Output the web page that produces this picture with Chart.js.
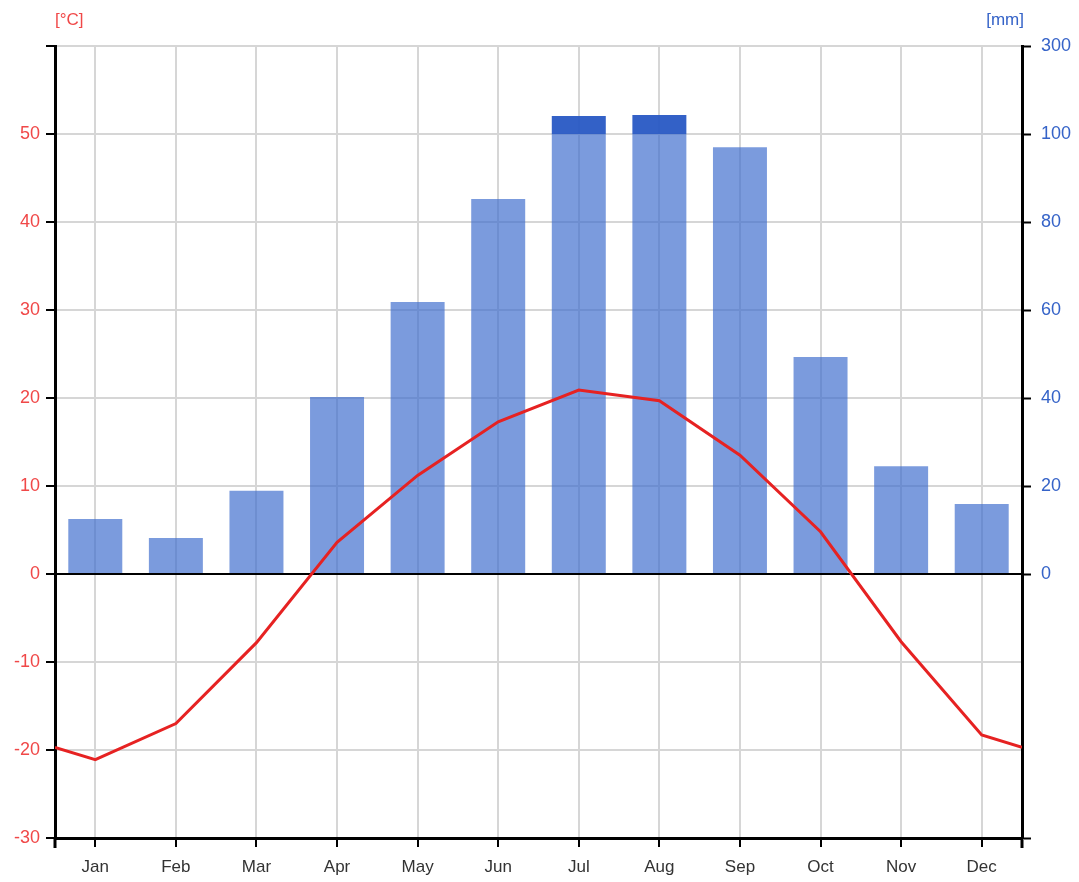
<!DOCTYPE html>
<html>
<head>
<meta charset="utf-8">
<script src="https://cdn.jsdelivr.net/npm/chart.js@4"></script>
<style>
  html, body { margin: 0; padding: 0; background: #fff; }
  #wrap { width: 1079px; height: 882px; }
</style>
</head>
<body>
<div id="wrap"><canvas id="climate"></canvas></div>
<script>
// Monthly climate values
const months = ['Jan', 'Feb', 'Mar', 'Apr', 'May', 'Jun', 'Jul', 'Aug', 'Sep', 'Oct', 'Nov', 'Dec'];
const temperature = [-21.1, -17.0, -7.8, 3.6, 11.2, 17.3, 20.9, 19.7, 13.5, 4.8, -7.7, -18.3];
const precipitation = [12.5, 8.2, 18.9, 40.2, 61.8, 85.2, 141, 143, 97, 49.3, 24.5, 15.9];

// precipitation -> temperature units: 20 mm = 10 °C up to 100 mm, above that 200 mm = 10 °C
const belowHundred = precipitation.map(p => [0, Math.min(p, 100) / 2]);
const aboveHundred = precipitation.map(p => p > 100 ? [50, 50 + (p - 100) / 20] : null);

// line runs edge to edge, edge value is the Dec/Jan mean
const edge = (temperature[0] + temperature[11]) / 2;
const linePoints = [{ x: 0, y: edge }]
  .concat(temperature.map((t, i) => ({ x: i + 0.5, y: t })))
  .concat([{ x: 12, y: edge }]);

const red = '#f04848';
const blue = '#3563c8';
const fontFamily = '"Liberation Sans", Arial, sans-serif';

const unitLabels = {
  id: 'unitLabels',
  afterDraw(chart) {
    const c = chart.ctx;
    const a = chart.chartArea;
    c.save();
    c.font = '17px ' + fontFamily;
    c.textBaseline = 'middle';
    c.textAlign = 'left';
    c.fillStyle = red;
    c.fillText('[°C]', 55, 20);
    c.textAlign = 'right';
    c.fillStyle = blue;
    c.fillText('[mm]', 1024, 20);
    // axis lines run a bit below the plot like the ticks
    c.strokeStyle = '#000';
    c.lineWidth = 3;
    c.beginPath();
    c.moveTo(a.left, a.bottom);
    c.lineTo(a.left, a.bottom + 10);
    c.moveTo(a.right, a.bottom);
    c.lineTo(a.right, a.bottom + 10);
    c.stroke();
    c.restore();
  }
};

const ctx = document.getElementById('climate').getContext('2d');
new Chart(ctx, {
  data: {
    labels: months,
    datasets: [
      {
        type: 'line',
        data: linePoints,
        xAxisID: 'xl',
        yAxisID: 'y',
        borderColor: '#e62222',
        borderWidth: 3,
        pointRadius: 0,
        tension: 0,
        order: 0
      },
      {
        type: 'bar',
        data: belowHundred,
        xAxisID: 'x',
        yAxisID: 'y',
        grouped: false,
        backgroundColor: 'rgba(60, 108, 205, 0.68)',
        barPercentage: 0.67,
        categoryPercentage: 1,
        order: 1
      },
      {
        type: 'bar',
        data: aboveHundred,
        xAxisID: 'x',
        yAxisID: 'y',
        grouped: false,
        backgroundColor: 'rgba(40, 88, 196, 0.95)',
        barPercentage: 0.67,
        categoryPercentage: 1,
        order: 1
      }
    ]
  },
  options: {
    responsive: true,
    maintainAspectRatio: false,
    animation: false,
    layout: { padding: { top: 46, left: 0, right: 0, bottom: 0 } },
    plugins: { legend: { display: false }, tooltip: { enabled: false } },
    scales: {
      x: {
        type: 'category',
        offset: true,
        afterFit: s => { s.height = 44; },
        grid: {
          offset: false,
          color: '#d6d6d6',
          lineWidth: 2,
          tickColor: '#000',
          tickLength: 9,
          tickWidth: 2
        },
        border: { color: '#000', width: 3 },
        ticks: { color: '#333', padding: 10, font: { family: fontFamily, size: 17 } }
      },
      xl: {
        type: 'linear',
        display: false,
        min: 0,
        max: 12
      },
      y: {
        position: 'left',
        min: -30,
        max: 60,
        afterFit: s => { s.width = 55; },
        ticks: {
          stepSize: 10,
          color: red,
          padding: 6,
          font: { family: fontFamily, size: 18 },
          callback: v => v === 60 ? '' : v
        },
        grid: {
          color: c => c.tick && c.tick.value === 0 ? '#000' : '#d6d6d6',
          lineWidth: 2,
          tickColor: '#000',
          tickLength: 9,
          tickWidth: 2
        },
        border: { color: '#000', width: 3 }
      },
      y2: {
        position: 'right',
        min: -30,
        max: 60,
        afterFit: s => { s.width = 57; },
        ticks: {
          stepSize: 10,
          color: blue,
          padding: 10,
          font: { family: fontFamily, size: 18 },
          callback: v => v === 60 ? 300 : (v >= 0 ? v * 2 : '')
        },
        grid: {
          drawOnChartArea: false,
          tickColor: c => c.tick && (c.tick.value >= 0 || c.tick.value === -30) ? '#000' : 'rgba(0,0,0,0)',
          tickLength: 9,
          tickWidth: 2
        },
        border: { color: '#000', width: 3 }
      }
    }
  },
  plugins: [unitLabels]
});
</script>
</body>
</html>
